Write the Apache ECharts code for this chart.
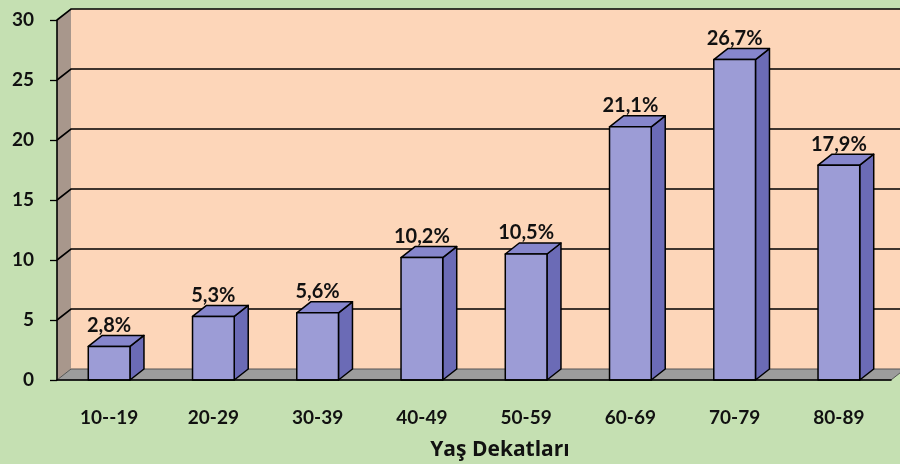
<!DOCTYPE html>
<html>
<head>
<meta charset="utf-8">
<script src="https://cdn.jsdelivr.net/npm/echarts@6/dist/echarts.min.js"></script>
<style>
  html, body { margin: 0; padding: 0; background: #c5e0b2; }
  #chart { width: 900px; height: 464px; }
</style>
</head>
<body>
<div id="chart"></div>
<script>
// Age decades and share of cases (%)
const categories = ['10--19', '20-29', '30-39', '40-49', '50-59', '60-69', '70-79', '80-89'];
const values = [2.8, 5.3, 5.6, 10.2, 10.5, 21.1, 26.7, 17.9];
const yTicks = [5, 10, 15, 20, 25, 30];
const axisTitle = 'Yaş Dekatları';

// Depth of the pseudo-3D walls and bars (pixels)
const DX = 14, DY = 11;
const FAMILY = 'Lato, "Open Sans", sans-serif';
const LABEL_FONT = 'bold 20px ' + FAMILY;
const TITLE_FONT = 'bold 21px "Open Sans", Lato, sans-serif';
const BG = '#c5e0b2', BACK = '#fdd6b9', WALL = '#a8978c', FLOOR = '#9c9c9c';
const FRONT = '#9c9cd6', SIDE = '#6b6bb6', TOP = '#8686cc';

function fmt(v) { return v.toFixed(1).replace('.', ',') + '%'; }

// Back plane, left wall and floor of the box
function renderWalls(params, api) {
  const cs = params.coordSys;
  const left = cs.x, right = cs.x + cs.width, top = cs.y, bottom = cs.y + cs.height;
  return {
    type: 'group',
    children: [
      { type: 'rect', shape: { x: left + DX, y: top - DY, width: cs.width + DX, height: cs.height },
        style: { fill: BACK } },
      { type: 'polygon', shape: { points: [[left, top], [left + DX, top - DY], [left + DX, bottom - DY], [left, bottom]] },
        style: { fill: WALL } },
      { type: 'polygon', shape: { points: [[left, bottom], [left + DX, bottom - DY], [right + DX, bottom - DY], [right, bottom]] },
        style: { fill: FLOOR, stroke: '#555', lineWidth: 1 } }
    ]
  };
}

// Grid lines bent over the left wall onto the back plane
function renderGrid(params, api) {
  const cs = params.coordSys;
  const y = api.coord([0, api.value(0)])[1];
  return {
    type: 'polyline',
    shape: { points: [[cs.x, y], [cs.x + DX, y - DY], [cs.x + cs.width + DX, y - DY]] },
    style: { stroke: '#000', lineWidth: 1.6, fill: null }
  };
}

// Box-shaped bars with value label
function renderBar(params, api) {
  const idx = api.value(0), v = api.value(1);
  const topPt = api.coord([idx, v]);
  const basePt = api.coord([idx, 0]);
  const band = api.size([1, 0])[0];
  const w = band * 0.4;
  const cx = topPt[0];
  const x0 = cx - w / 2, x1 = cx + w / 2;
  const yT = topPt[1], yB = basePt[1];
  const line = { stroke: '#000', lineWidth: 1.5, lineJoin: 'round' };
  return {
    type: 'group',
    children: [
      { type: 'polygon', shape: { points: [[x1, yT], [x1 + DX, yT - DY], [x1 + DX, yB - DY], [x1, yB]] },
        style: Object.assign({ fill: SIDE }, line) },
      { type: 'polygon', shape: { points: [[x0, yT], [x0 + DX, yT - DY], [x1 + DX, yT - DY], [x1, yT]] },
        style: Object.assign({ fill: TOP }, line) },
      { type: 'rect', shape: { x: x0, y: yT, width: w, height: yB - yT },
        style: Object.assign({ fill: FRONT }, line) },
      { type: 'text', x: cx, y: yT - 21,
        style: { text: fmt(v), align: 'center', verticalAlign: 'middle', font: LABEL_FONT, fill: '#111' } }
    ]
  };
}

const chart = echarts.init(document.getElementById('chart'), null, { renderer: 'canvas' });
chart.setOption({
  backgroundColor: BG,
  animation: false,
  grid: { left: 57, right: 9, top: 20, bottom: 84 },
  xAxis: {
    type: 'category',
    data: categories,
    z: 10,
    axisLine: { lineStyle: { color: '#000', width: 1.6 } },
    axisTick: { length: 8, lineStyle: { color: '#000', width: 1.3 } },
    axisLabel: { margin: 28, color: '#111', fontFamily: FAMILY, fontWeight: 'bold', fontSize: 19 }
  },
  yAxis: {
    type: 'value',
    min: 0, max: 30, interval: 5,
    z: 10,
    splitLine: { show: false },
    axisLine: { show: true, lineStyle: { color: '#000', width: 1.6 } },
    axisTick: { show: true, length: 7, lineStyle: { color: '#000', width: 1.3 } },
    axisLabel: { margin: 23, color: '#111', fontFamily: FAMILY, fontWeight: 'bold', fontSize: 19 }
  },
  graphic: [
    { type: 'text', x: 500, y: 450,
      style: { text: axisTitle, align: 'center', verticalAlign: 'middle', font: TITLE_FONT, fill: '#111' } }
  ],
  series: [
    { type: 'custom', z: 1, silent: true, data: [[0]], renderItem: renderWalls },
    { type: 'custom', z: 2, silent: true, data: yTicks.map(t => [t]), renderItem: renderGrid },
    { type: 'custom', z: 3, silent: true,
      data: values.map((v, i) => [i, v]), renderItem: renderBar }
  ]
});
</script>
</body>
</html>
